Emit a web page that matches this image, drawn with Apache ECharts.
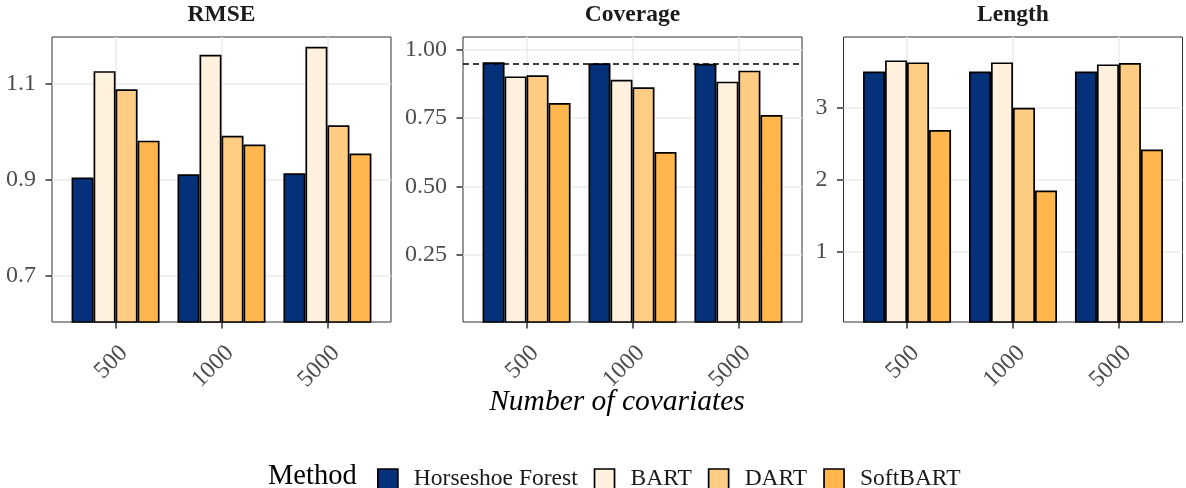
<!DOCTYPE html>
<html>
<head>
<meta charset="utf-8">
<script src="https://cdn.jsdelivr.net/npm/echarts@6/dist/echarts.min.js"></script>
<style>
  html, body { margin: 0; padding: 0; background: #ffffff; }
  #chart { width: 1186px; height: 488px; }
</style>
</head>
<body>
<div id="chart"></div>
<script>
// ---- data ----
const categories = ['500', '1000', '5000'];
const methods = ['Horseshoe Forest', 'BART', 'DART', 'SoftBART'];
const panelTitles = ['RMSE', 'Coverage', 'Length'];

const rmseHF   = [0.904, 0.911, 0.913];
const rmseBART = [1.126, 1.160, 1.177];
const rmseDART = [1.088, 0.991, 1.013];
const rmseSoft = [0.981, 0.973, 0.954];

const covHF   = [0.954, 0.950, 0.948];
const covBART = [0.902, 0.890, 0.883];
const covDART = [0.906, 0.862, 0.923];
const covSoft = [0.805, 0.626, 0.761];

const lenHF   = [3.510, 3.510, 3.510];
const lenBART = [3.664, 3.636, 3.608];
const lenDART = [3.636, 3.004, 3.628];
const lenSoft = [2.693, 1.851, 2.423];

const rmseTicks = [0.7, 0.9, 1.1];
const covTicks = [0.25, 0.50, 0.75, 1.00];
const lenTicks = [1, 2, 3];
const nominalCoverage = 0.95;

// ---- styles / layout ----
const FONT = '"Liberation Serif", "Times New Roman", serif';
const colors = ['#05307A', '#FFF1DE', '#FFCC84', '#FFB74D'];
const panelValues = [
  [rmseHF, rmseBART, rmseDART, rmseSoft],
  [covHF, covBART, covDART, covSoft],
  [lenHF, lenBART, lenDART, lenSoft]
];
const panelTicks = [rmseTicks, covTicks, lenTicks];
const panelDecimals = [1, 2, 0];
const panelRange = [[0.6028, 1.1972], [0.005, 1.046], [0.018, 3.99]];
const panelLeft = [52, 463, 843.5];
const panelWidth = 339;
const panelTop = 37;
const panelHeight = 285;

const grids = [], xAxes = [], yAxes = [], series = [], graphics = [];
for (let p = 0; p < 3; p++) {
  grids.push({
    left: panelLeft[p], top: panelTop, width: panelWidth, height: panelHeight,
    show: true, borderColor: '#333333', borderWidth: 1, backgroundColor: '#ffffff'
  });
  xAxes.push({
    type: 'value', gridIndex: p, min: 0.4, max: 3.6,
    axisLine: { show: false },
    axisTick: { show: true, customValues: [1, 2, 3], length: 6.5, lineStyle: { color: '#333333', width: 1.5 } },
    axisLabel: {
      customValues: [1, 2, 3],
      formatter: v => categories[Math.round(v) - 1],
      rotate: 45, align: 'right', verticalAlign: 'top', margin: 19,
      color: '#4D4D4D', fontFamily: FONT, fontSize: 24
    },
    splitLine: { show: true, lineStyle: { color: '#EBEBEB', width: 1.5 } }
  });
  const dec = panelDecimals[p];
  yAxes.push({
    type: 'value', gridIndex: p, min: panelRange[p][0], max: panelRange[p][1],
    axisLine: { show: false },
    axisTick: { show: true, customValues: panelTicks[p], length: 6.5, lineStyle: { color: '#333333', width: 1.5 } },
    axisLabel: {
      customValues: panelTicks[p],
      formatter: v => Number(v).toFixed(dec),
      margin: 16, color: '#4D4D4D', fontFamily: FONT, fontSize: 24
    },
    splitLine: { show: true, lineStyle: { color: '#EBEBEB', width: 1.5 } }
  });
  for (let m = 0; m < 4; m++) {
    const s = {
      type: 'bar', name: methods[m], xAxisIndex: p, yAxisIndex: p,
      data: panelValues[p][m].map((v, i) => [i + 1, v]),
      barWidth: 22, barGap: '0%',
      itemStyle: { color: colors[m], borderColor: '#000000', borderWidth: 1.7 },
      emphasis: { disabled: true },
      z: 2
    };
    if (p === 1 && m === 3) {
      s.markLine = {
        silent: true, symbol: 'none', animation: false,
        label: { show: false },
        lineStyle: { type: [6, 4], color: '#000000', width: 1.5 },
        data: [{ yAxis: nominalCoverage }]
      };
    }
    series.push(s);
  }
  graphics.push({
    type: 'text', x: panelLeft[p] + panelWidth / 2, y: 15,
    style: { text: panelTitles[p], font: 'bold 23.5px ' + FONT, fill: '#1A1A1A', align: 'center', verticalAlign: 'middle' }
  });
}
graphics.push({
  type: 'text', x: 617, y: 402,
  style: { text: 'Number of covariates', font: 'italic 29.5px ' + FONT, fill: '#000000', align: 'center', verticalAlign: 'middle' }
});
graphics.push({
  type: 'text', x: 268, y: 477,
  style: { text: 'Method', font: '28.5px ' + FONT, fill: '#000000', align: 'left', verticalAlign: 'middle' }
});

const chart = echarts.init(document.getElementById('chart'), null, { renderer: 'canvas' });
chart.setOption({
  animation: false,
  backgroundColor: '#ffffff',
  grid: grids,
  xAxis: xAxes,
  yAxis: yAxes,
  legend: {
    data: methods, left: 377, top: 467, itemWidth: 20, itemHeight: 20, itemGap: 16,
    icon: 'rect', selectedMode: false, padding: 0,
    itemStyle: { borderColor: '#000000', borderWidth: 1.7 },
    textStyle: { fontFamily: FONT, fontSize: 23.5, color: '#1A1A1A', padding: [0, 0, 0, 11] }
  },
  graphic: graphics,
  series: series
});
</script>
</body>
</html>
